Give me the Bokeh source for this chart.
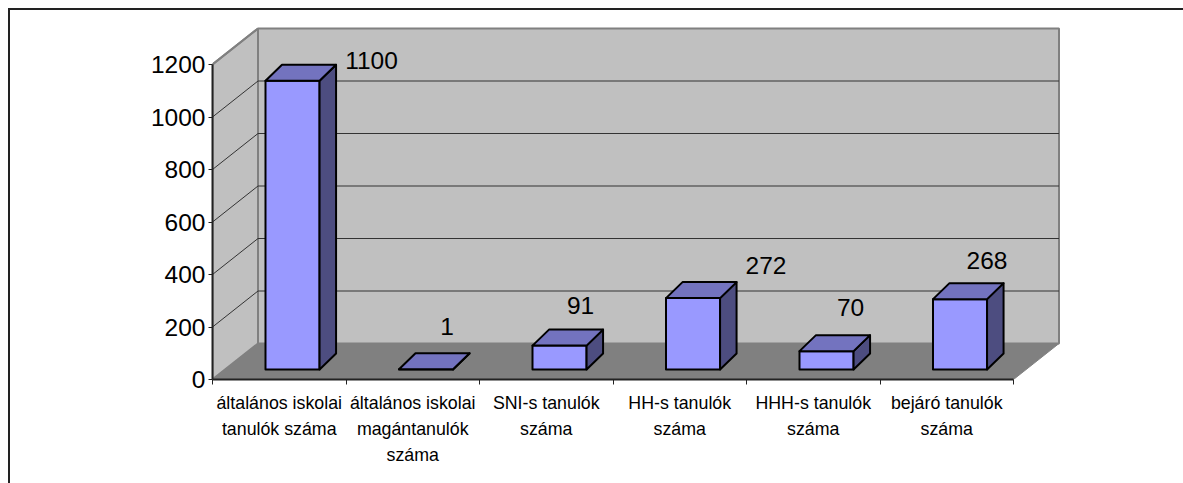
from bokeh.plotting import figure
from bokeh.models import FixedTicker, Range1d, LinearAxis
from bokeh.core.properties import value
from bokeh.embed import file_html
from bokeh.resources import INLINE

categories = ["általános iskolai\ntanulók száma", "általános iskolai\nmagántanulók\nszáma",
              "SNI-s tanulók\nszáma", "HH-s tanulók\nszáma", "HHH-s tanulók\nszáma", "bejáró tanulók\nszáma"]
values = [1100, 1, 91, 272, 70, 268]
y_ticks = [0, 200, 400, 600, 800, 1000, 1200]

# layout (pixels of the picture, turned into data units below)
W, H = 1175, 475
L, R, T, B = 202, 123, 16, 106
PX_X = 133.5
PX_Y = 0.2625
wall_dx, wall_dy = 45.5 / PX_X, 36 / PX_Y
bar_l, bar_r = 0.397, 0.802
depth_x, depth_y = 16.5 / PX_X, 16 / PX_Y
base = 10 / PX_Y
label_off_x = [79, 21, 21, 73, 24, 27]
label_off_y = [20, 43, 40, 33, 44, 39]

n = len(values)
ymax = y_ticks[-1]
p = figure(width=W, height=H, output_backend="svg", toolbar_location=None,
           x_range=Range1d(0, (W - L - R) / PX_X), y_range=Range1d(0, (H - T - B) / PX_Y),
           min_border_left=L, min_border_right=R, min_border_top=T, min_border_bottom=B,
           x_axis_type=None, y_axis_type=None, outline_line_color=None,
           background_fill_color="white", border_fill_color="white")
p.margin = (8, 0, 0, 8)
p.styles = {"border-top": "2px solid #222", "border-left": "2px solid #222", "box-sizing": "border-box"}
p.grid.visible = False

# walls and floor
p.patch([0, wall_dx, wall_dx, 0], [ymax, ymax + wall_dy, wall_dy, 0], fill_color="#c0c0c0", line_color="#808080", line_width=2)
p.patch([wall_dx, n + wall_dx, n + wall_dx, wall_dx], [wall_dy, wall_dy, ymax + wall_dy, ymax + wall_dy],
        fill_color="#c0c0c0", line_color="#808080", line_width=2)
for t in y_ticks[1:-1] + [ymax]:
    if t < ymax:
        p.line([wall_dx, n + wall_dx], [t + wall_dy, t + wall_dy], line_color="#333333", line_width=1)
    p.line([0, wall_dx], [t, t + wall_dy], line_color="#333333" if t < ymax else "#808080", line_width=1 if t < ymax else 2)
p.patch([0, n, n + wall_dx, wall_dx], [0, 0, wall_dy, wall_dy], fill_color="#808080", line_color="#808080", line_width=1)

# bars
front_x, front_y, top_x, top_y, side_x, side_y = [], [], [], [], [], []
for i, v in enumerate(values):
    a, b = i + bar_l, i + bar_r
    y0, y1 = base, base + v
    front_x.append([a, b, b, a]); front_y.append([y0, y0, y1, y1])
    top_x.append([a, b, b + depth_x, a + depth_x]); top_y.append([y1, y1, y1 + depth_y, y1 + depth_y])
    side_x.append([b, b + depth_x, b + depth_x, b]); side_y.append([y0, y0 + depth_y, y1 + depth_y, y1])
p.patches(front_x, front_y, fill_color="#9999ff", line_color="black", line_width=2, line_join="round")
p.patches(side_x, side_y, fill_color="#4d4d80", line_color="black", line_width=2, line_join="round")
p.patches(top_x, top_y, fill_color="#7373bf", line_color="black", line_width=2, line_join="round")

# data labels
lx = [i + (bar_l + bar_r) / 2 + o / PX_X for i, o in enumerate(label_off_x)]
ly = [base + v + o / PX_Y for v, o in zip(values, label_off_y)]
p.text(lx, ly, text=[str(v) for v in values], text_font=value("Liberation Sans"), text_font_size="24.5px",
       text_color="black", text_align="center", text_baseline="middle")

# axes
ya = LinearAxis(ticker=FixedTicker(ticks=y_ticks), bounds=(0, ymax))
ya.axis_line_color = "#222222"; ya.axis_line_width = 2
ya.major_tick_line_color = "#222222"; ya.major_tick_out = 4; ya.major_tick_in = 0
ya.minor_tick_line_color = None
ya.major_label_standoff = 3
ya.major_label_text_font = "Liberation Sans"; ya.major_label_text_font_size = "24.5px"
ya.major_label_text_color = "black"
p.add_layout(ya, "left")

centers = [i + 0.5 for i in range(n)]
xa = LinearAxis(ticker=FixedTicker(ticks=centers, minor_ticks=list(range(n + 1))), bounds=(0, n))
xa.major_label_overrides = {c: t for c, t in zip(centers, categories)}
xa.axis_line_color = "#222222"; xa.axis_line_width = 2
xa.major_tick_line_color = None
xa.minor_tick_line_color = "#222222"; xa.minor_tick_out = 5; xa.minor_tick_in = 0
xa.major_label_standoff = 7
xa.major_label_text_font = "Liberation Sans"; xa.major_label_text_font_size = "17.8px"
xa.major_label_text_color = "black"; xa.major_label_text_line_height = 1.3
p.add_layout(xa, "below")

open("out.html", "w").write(file_html(p, INLINE))
